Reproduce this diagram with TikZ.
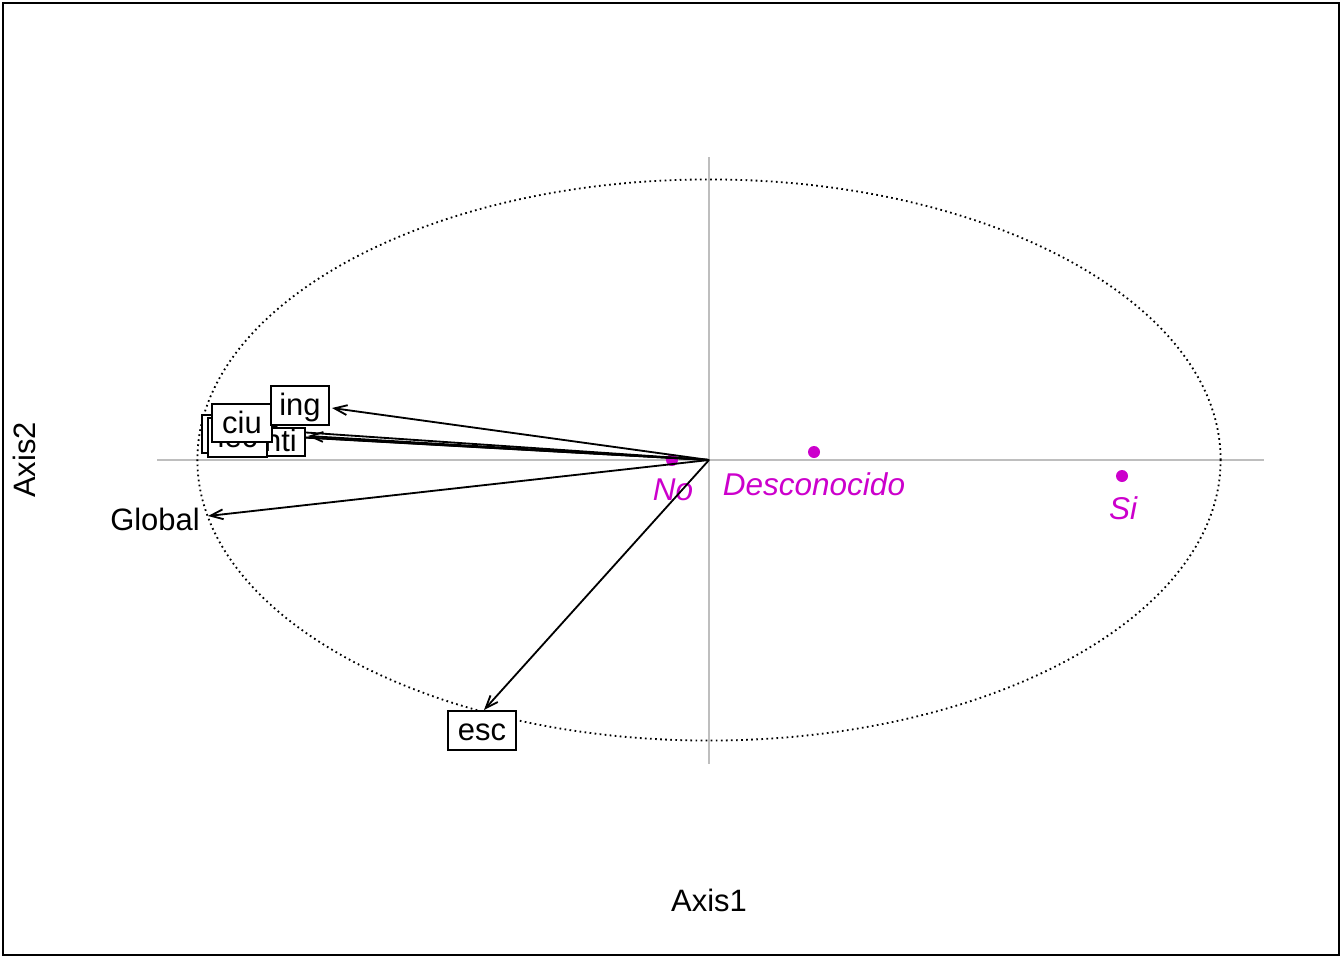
\documentclass[tikz,border=0pt]{standalone}
\usepackage{fontspec}
\setmainfont{Liberation Sans}
\usepackage{tikz}
\usetikzlibrary{arrows.meta}
\definecolor{pink}{RGB}{204,0,204}
\definecolor{axgray}{RGB}{190,190,190}
\tikzset{
  lbox/.style={draw, fill=white, line width=1.3pt, inner xsep=0.18cm, inner ysep=0.13cm,
    text height=0.6cm, text depth=0.1cm},
  arr/.style={line width=1.3pt, -{Straight Barb[length=9pt,width=7pt]}},
  grp/.style={pink, font=\fontsize{22.4pt}{27pt}\selectfont\itshape, inner sep=0pt},
}

\begin{document}
\begin{tikzpicture}[x=0.025cm, y=-0.025cm, font=\fontsize{22pt}{26pt}\selectfont]
\useasboundingbox (0,0) rectangle (1344,960);
% marco y ejes
\draw[line width=1.2pt] (3,3) rectangle (1339,955);
\coordinate (O) at (709,460);
\draw[axgray, line width=1.2pt] (157,460) -- (1264,460);
\draw[axgray, line width=1.2pt] (709,157) -- (709,764);
\draw[line width=1.3pt, dash pattern=on 1.2pt off 2.4pt] (O) ellipse [x radius=12.7875cm, y radius=7.0125cm];
\node at (709,900) {Axis1};
\node[rotate=90] at (24,460) {Axis2};
% grupos
\fill[pink] (672,460) circle [radius=0.15cm];
\fill[pink] (814,452) circle [radius=0.15cm];
\fill[pink] (1122,476) circle [radius=0.15cm];
\node[grp] (no) at (673,490) {No};
\node[grp] (desc) at (814,484) {Desconocido};
\node[grp] (si) at (1123,508) {Si};
% flechas de las variables
\coordinate (ingEnd) at (332,408);
\coordinate (ntiEnd) at (308,436);
\coordinate (ciuEnd) at (262,429.5);
\coordinate (lecEnd) at (262,435);
\coordinate (hidEnd) at (240,434);
\coordinate (globEnd) at (208,516);
\coordinate (escEnd) at (484,710);
\draw[arr] (O) -- (hidEnd);
\draw[arr] (O) -- (lecEnd);
\draw[arr] (O) -- (ciuEnd);
\draw[arr] (O) -- (ntiEnd);
\draw[arr] (O) -- (ingEnd);
\draw[arr] (O) -- (globEnd);
\draw[arr] (O) -- (escEnd);
% etiquetas
\node[lbox, minimum width=1.5cm] (hid) at (232,434) {};
\node[lbox, minimum width=1.225cm, text height=0.5cm, text depth=0.02cm, inner ysep=0.1cm] (nti) at (280.5,442) {nti};
\node[lbox, minimum width=1.475cm] (lec) at (237.5,437.5) {lec};
\node[lbox, minimum width=1.5cm] (ciu) at (242,423) {ciu};
\node[lbox, minimum width=1.45cm] (ing) at (300,405.5) {ing};
\node[lbox, minimum width=1.7cm] (esc) at (482,730.5) {esc};
\node[inner sep=0pt] (glob) at (155,519) {Global};
\end{tikzpicture}
\end{document}
